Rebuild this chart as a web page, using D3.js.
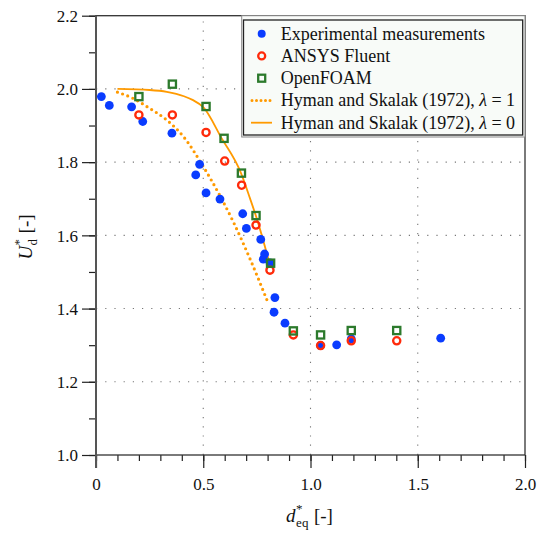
<!DOCTYPE html>
<html>
<head>
<meta charset="utf-8">
<script src="https://cdn.jsdelivr.net/npm/d3@7"></script>
<style>
  html, body { margin: 0; padding: 0; background: #fff; }
  svg { display: block; }
  svg text { font-family: "Liberation Serif", "Times New Roman", "DejaVu Serif", serif !important; fill: #111; }
</style>
</head>
<body>
<svg id="chart" width="542" height="534"></svg>
<script>
// Experimental measurements
const expX = [0.025, 0.062, 0.166, 0.218, 0.354, 0.465, 0.483, 0.513, 0.578, 0.684, 0.701, 0.768, 0.780, 0.786, 0.811, 0.830, 0.834, 0.881, 1.047, 1.122, 1.190, 1.607];
const expY = [1.979, 1.955, 1.951, 1.911, 1.879, 1.765, 1.794, 1.716, 1.699, 1.659, 1.619, 1.589, 1.535, 1.549, 1.525, 1.390, 1.430, 1.360, 1.299, 1.301, 1.317, 1.319];

// ANSYS Fluent
const fluentX = [0.200, 0.356, 0.513, 0.600, 0.679, 0.746, 0.811, 0.920, 1.047, 1.190, 1.402];
const fluentY = [1.929, 1.929, 1.881, 1.803, 1.737, 1.628, 1.505, 1.328, 1.299, 1.312, 1.312];

// OpenFOAM
const foamX = [0.200, 0.356, 0.513, 0.597, 0.678, 0.746, 0.814, 0.920, 1.047, 1.190, 1.402];
const foamY = [1.979, 2.013, 1.952, 1.865, 1.770, 1.654, 1.524, 1.339, 1.328, 1.340, 1.340];

// Hyman and Skalak (1972), lambda = 1
const hs1X = [0.10, 0.17, 0.25, 0.33, 0.41, 0.50, 0.58, 0.64, 0.72, 0.80];
const hs1Y = [1.991, 1.975, 1.947, 1.915, 1.868, 1.788, 1.706, 1.637, 1.533, 1.419];

// Hyman and Skalak (1972), lambda = 0
const hs0X = [0.10, 0.25, 0.33, 0.41, 0.45, 0.50, 0.586, 0.676, 0.718, 0.749, 0.811];
const hs0Y = [2.000, 1.997, 1.992, 1.980, 1.970, 1.950, 1.865, 1.770, 1.701, 1.647, 1.519];

// Axis ticks
const xMajor = [0, 0.5, 1.0, 1.5, 2.0];
const xMinor = d3.range(0, 21).map(i => i / 10);
const yMajor = [1.0, 1.2, 1.4, 1.6, 1.8, 2.0, 2.2];
const yMinor = d3.range(10, 23).map(i => i / 10);
const xGrid = [0.5, 1.0, 1.5];
const yGrid = [1.2, 1.4, 1.6, 1.8, 2.0];

const legendLabels = ["Experimental measurements", "ANSYS Fluent", "OpenFOAM",
  "Hyman and Skalak (1972), ", "Hyman and Skalak (1972), "];
const legendLambda = [null, null, null, "1", "0"];

const colBlue = "#0a3cff", colRed = "#ff2a0a", colGreen = "#2c7a2c", colOrange = "#ff9a00";
const serif = '"Liberation Serif", "Times New Roman", "DejaVu Serif", serif';

const svg = d3.select("#chart");
const L = 96, R = 525, T = 15.7, B = 455;
const x = d3.scaleLinear().domain([0, 2]).range([L, R]);
const y = d3.scaleLinear().domain([1, 2.2]).range([B, T]);

// dotted grid
const grid = svg.append("g").attr("stroke", "#777").attr("stroke-width", 1.1)
  .attr("stroke-dasharray", "1.2 8");
grid.selectAll("line.v").data(xGrid).join("line").attr("class", "v")
  .attr("x1", d => x(d)).attr("x2", d => x(d)).attr("y1", B).attr("y2", T);
grid.selectAll("line.h").data(yGrid).join("line").attr("class", "h")
  .attr("y1", d => y(d)).attr("y2", d => y(d)).attr("x1", L).attr("x2", R);

// axes with outward ticks
const fmtX = d => d === 0 ? "0" : d3.format(".1f")(d);
const gxMinor = svg.append("g").attr("transform", `translate(0,${B})`)
  .call(d3.axisBottom(x).tickValues(xMinor).tickSize(6).tickSizeOuter(0).tickFormat(""));
const gxMajor = svg.append("g").attr("transform", `translate(0,${B})`)
  .call(d3.axisBottom(x).tickValues(xMajor).tickSize(13).tickSizeOuter(0).tickFormat(fmtX));
const gyMinor = svg.append("g").attr("transform", `translate(${L},0)`)
  .call(d3.axisLeft(y).tickValues(yMinor).tickSize(7).tickSizeOuter(0).tickFormat(""));
const gyMajor = svg.append("g").attr("transform", `translate(${L},0)`)
  .call(d3.axisLeft(y).tickValues(yMajor).tickSize(14).tickSizeOuter(0).tickFormat(d3.format(".1f")));
[gxMinor, gxMajor, gyMinor, gyMajor].forEach(g => {
  g.attr("font-family", serif);
  g.select(".domain").remove();
  g.selectAll(".tick line").attr("stroke", "#222").attr("stroke-width", 1.2);
});
gxMajor.selectAll(".tick text").attr("y", 35).attr("dy", 0)
  .style("font-size", "17px").style("font-family", serif).attr("fill", "#111");
gyMajor.selectAll(".tick text").attr("x", -18).attr("dy", "0.34em")
  .style("font-size", "17px").style("font-family", serif).attr("fill", "#111");

// frame
svg.append("rect").attr("x", L).attr("y", T).attr("width", R - L).attr("height", B - T)
  .attr("fill", "none").attr("stroke", "#333").attr("stroke-width", 1.3);
svg.append("line").attr("x1", L).attr("x2", L).attr("y1", T).attr("y2", B + 13)
  .attr("stroke", "#555").attr("stroke-width", 2);

// model curves
const line = d3.line().x(d => x(d[0])).y(d => y(d[1])).curve(d3.curveMonotoneX);
svg.append("path").datum(d3.zip(hs1X, hs1Y)).attr("d", line)
  .attr("fill", "none").attr("stroke", colOrange).attr("stroke-width", 3.2)
  .attr("stroke-linecap", "round").attr("stroke-dasharray", "0 5.5");
svg.append("path").datum(d3.zip(hs0X, hs0Y)).attr("d", line)
  .attr("fill", "none").attr("stroke", colOrange).attr("stroke-width", 1.8);

// markers
svg.append("g").selectAll("circle").data(d3.zip(expX, expY)).join("circle")
  .attr("cx", d => x(d[0])).attr("cy", d => y(d[1])).attr("r", 4.4).attr("fill", colBlue);
svg.append("g").selectAll("circle").data(d3.zip(fluentX, fluentY)).join("circle")
  .attr("cx", d => x(d[0])).attr("cy", d => y(d[1])).attr("r", 3.6)
  .attr("fill", "none").attr("stroke", colRed).attr("stroke-width", 2.3);
svg.append("g").selectAll("rect").data(d3.zip(foamX, foamY)).join("rect")
  .attr("x", d => x(d[0]) - 3.6).attr("y", d => y(d[1]) - 3.6).attr("width", 7.2).attr("height", 7.2)
  .attr("fill", "none").attr("stroke", colGreen).attr("stroke-width", 2.3);

// legend
const lg = svg.append("g");
lg.append("rect").attr("x", 241.7).attr("y", T).attr("width", R - 241.7).attr("height", 137 - T)
  .attr("fill", "#fafcfa").attr("stroke", "#888").attr("stroke-width", 1);
lg.append("rect").attr("x", 243.5).attr("y", 20).attr("width", 522.7 - 243.5).attr("height", 115)
  .attr("fill", "#f8fbf8").attr("stroke", "#222").attr("stroke-width", 1.3);
const rowY = i => 33.7 + i * 22.25;
const mx = 261.7;
lg.append("circle").attr("cx", mx).attr("cy", rowY(0)).attr("r", 4).attr("fill", colBlue);
lg.append("circle").attr("cx", mx).attr("cy", rowY(1)).attr("r", 3.5)
  .attr("fill", "none").attr("stroke", colRed).attr("stroke-width", 2.3);
lg.append("rect").attr("x", mx - 3.5).attr("y", rowY(2) - 3.5).attr("width", 7).attr("height", 7)
  .attr("fill", "none").attr("stroke", colGreen).attr("stroke-width", 2.3);
lg.append("line").attr("x1", 252).attr("x2", 272).attr("y1", rowY(3)).attr("y2", rowY(3))
  .attr("stroke", colOrange).attr("stroke-width", 3).attr("stroke-linecap", "round")
  .attr("stroke-dasharray", "0 4.5");
lg.append("line").attr("x1", 251).attr("x2", 272).attr("y1", rowY(4)).attr("y2", rowY(4))
  .attr("stroke", colOrange).attr("stroke-width", 1.8);
legendLabels.forEach((lab, i) => {
  const t = lg.append("text").attr("x", 280.7).attr("y", rowY(i) + 6)
    .style("font-size", "18px").style("font-family", serif);
  t.append("tspan").text(lab);
  if (legendLambda[i]) {
    t.append("tspan").attr("font-style", "italic").text("λ");
    t.append("tspan").text(" = " + legendLambda[i]);
  }
});

// axis titles: italic symbol with superscript star and subscript
function symbolTitle(g, sym, sub) {
  const main = g.append("text").style("font-size", "19px").style("font-family", serif)
    .attr("font-style", "italic").text(sym);
  const w = main.node().getComputedTextLength();
  g.append("text").style("font-size", "13px").style("font-family", serif)
    .attr("x", w + 0.5).attr("y", -9).text("*");
  const s = g.append("text").style("font-size", "13px").style("font-family", serif)
    .attr("x", w + 0.5).attr("y", 5).text(sub);
  const ws = s.node().getComputedTextLength();
  const br = g.append("text").style("font-size", "19px").style("font-family", serif)
    .attr("x", w + ws + 6).text("[-]");
  const total = w + ws + 6 + br.node().getComputedTextLength();
  g.selectAll("text").attr("transform", `translate(${-total / 2},0)`);
}
symbolTitle(svg.append("g").attr("transform", "translate(309.5,522)"), "d", "eq");
symbolTitle(svg.append("g").attr("transform", "translate(32,237) rotate(-90)"), "U", "d");
</script>
</body>
</html>
